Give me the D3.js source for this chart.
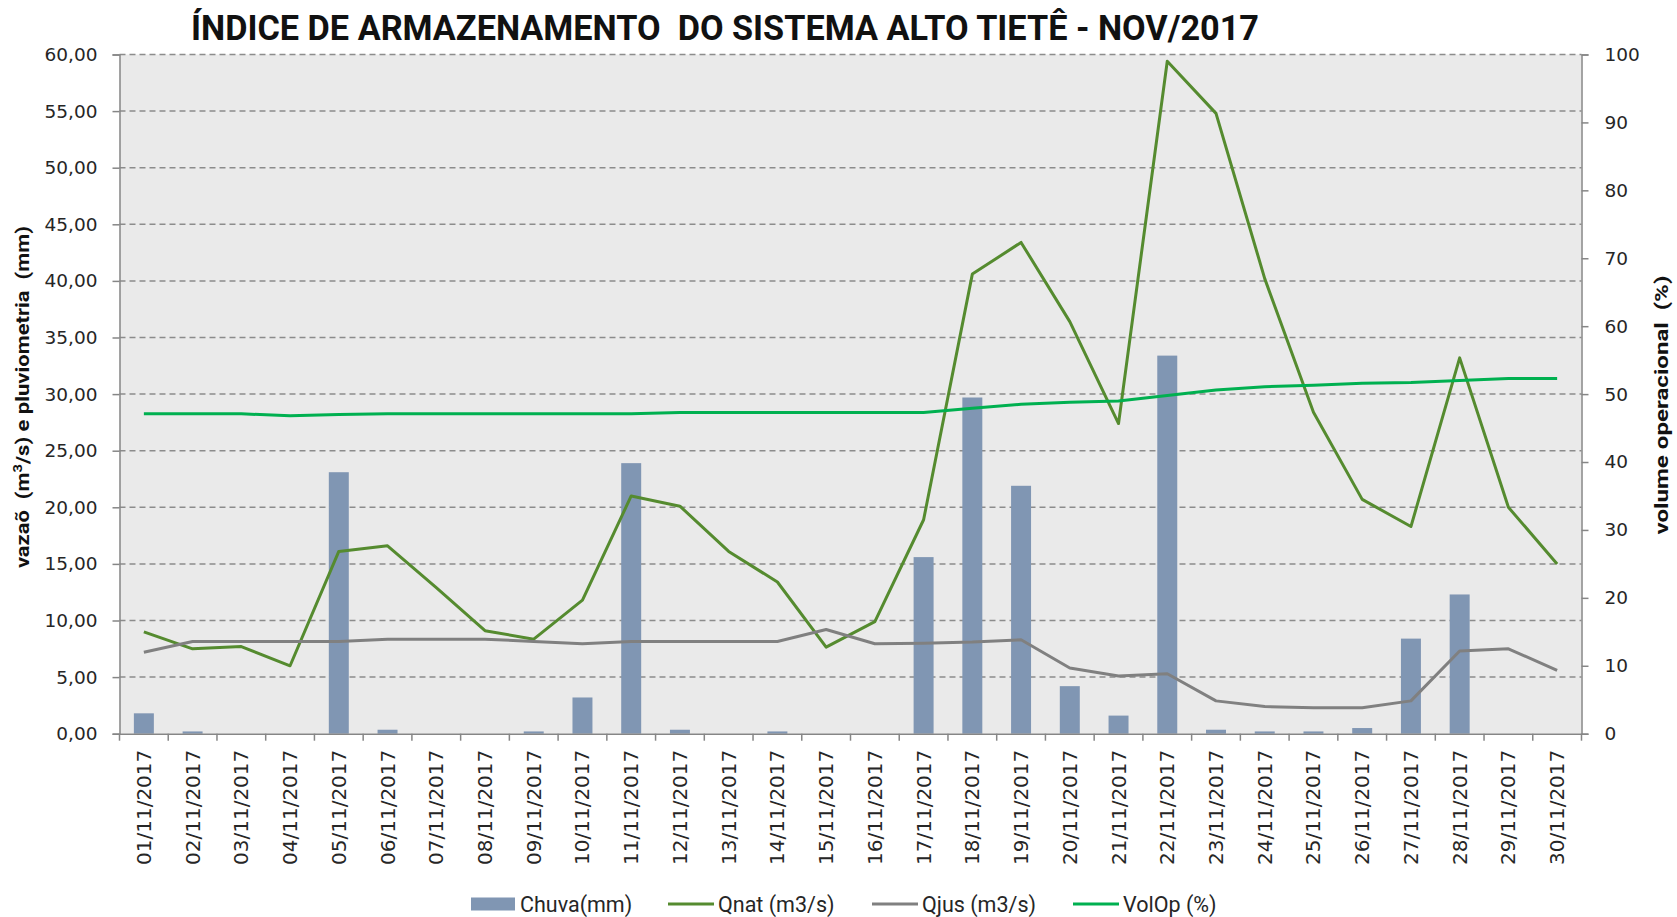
<!DOCTYPE html>
<html>
<head>
<meta charset="utf-8">
<script src="https://cdn.jsdelivr.net/npm/d3@7"></script>
<style>
  body { margin: 0; background: #fff; }
  text { white-space: pre; }
  .tick text { font-family: "DejaVu Sans", Verdana, sans-serif; font-size: 18.5px; fill: #262626; }
  .xaxis .tick text { font-size: 20px; }
  .axis path, .axis line { stroke: #868686; stroke-width: 1.5; }
</style>
</head>
<body>
<div id="chart"></div>
<script>
// dias do mes
let days = ["01/11/2017","02/11/2017","03/11/2017","04/11/2017","05/11/2017","06/11/2017",
  "07/11/2017","08/11/2017","09/11/2017","10/11/2017","11/11/2017","12/11/2017",
  "13/11/2017","14/11/2017","15/11/2017","16/11/2017","17/11/2017","18/11/2017",
  "19/11/2017","20/11/2017","21/11/2017","22/11/2017","23/11/2017","24/11/2017",
  "25/11/2017","26/11/2017","27/11/2017","28/11/2017","29/11/2017","30/11/2017"];

let chuva = [1.8, 0.2, 0, 0, 23.1, 0.35, 0, 0, 0.2, 3.2, 23.9, 0.35, 0, 0.2, 0, 0,
  15.6, 29.7, 21.9, 4.2, 1.6, 33.4, 0.35, 0.2, 0.2, 0.5, 8.4, 12.3, 0, 0];

let qnat = [9.0, 7.5, 7.7, 6.0, 16.1, 16.6, 12.9, 9.1, 8.35, 11.8, 21.0, 20.1, 16.1, 13.4, 7.65, 9.9,
  18.9, 40.6, 43.4, 36.4, 27.4, 59.4, 54.8, 40.2, 28.4, 20.7, 18.3, 33.2, 20.0, 15.0];

let qjus = [7.2, 8.15, 8.15, 8.15, 8.15, 8.35, 8.35, 8.35, 8.15, 7.95, 8.15, 8.15, 8.15, 8.15, 9.2, 7.95,
  8.0, 8.1, 8.3, 5.8, 5.1, 5.3, 2.9, 2.4, 2.3, 2.3, 2.9, 7.3, 7.5, 5.6];

let volop = [47.1, 47.1, 47.1, 46.8, 47.0, 47.1, 47.1, 47.1, 47.1, 47.1, 47.1, 47.3, 47.3, 47.3, 47.3, 47.3,
  47.3, 47.9, 48.5, 48.8, 49.0, 49.8, 50.6, 51.1, 51.3, 51.6, 51.7, 52.0, 52.3, 52.3];

let leftTicks = [0, 5, 10, 15, 20, 25, 30, 35, 40, 45, 50, 55, 60];
let rightTicks = [0, 10, 20, 30, 40, 50, 60, 70, 80, 90, 100];

let legendItems = [
  {name: "Chuva(mm)", type: "bar", color: "#8096B3"},
  {name: "Qnat (m3/s)", type: "line", color: "#558B2F"},
  {name: "Qjus (m3/s)", type: "line", color: "#808080"},
  {name: "VolOp (%)", type: "line", color: "#00B050"}
];

var svgwidth = 1677, svgheight = 917;
var margin = {top: 54.5, right: 95.5, bottom: 183.3, left: 119.5},
    width = svgwidth - margin.left - margin.right,
    height = svgheight - margin.top - margin.bottom;

var br = d3.formatLocale({decimal: ",", thousands: ".", grouping: [3], currency: ["R$", ""]});

let x = d3.scaleBand()
    .domain(days)
    .range([0, width])
    .paddingInner(0.59)
    .paddingOuter(0.295);

let y = d3.scaleLinear().domain([0, 60]).range([height, 0]);
let y2 = d3.scaleLinear().domain([0, 100]).range([height, 0]);

let cx = d => x(d) + x.bandwidth() / 2;

let root = d3.select("#chart").append("svg")
    .attr("width", svgwidth)
    .attr("height", svgheight);

let svg = root.append("g")
    .attr("transform", "translate(" + margin.left + "," + margin.top + ")");

// fundo
svg.append("rect")
    .attr("width", width)
    .attr("height", height)
    .style("fill", "#EAEAEA");

// grade
svg.selectAll(".grid")
    .data(leftTicks.filter(t => t > 0))
  .enter().append("line")
    .attr("class", "grid")
    .attr("x1", 0).attr("x2", width)
    .attr("y1", d => y(d)).attr("y2", d => y(d))
    .style("stroke", "#8C8C8C")
    .style("stroke-width", 1.5)
    .style("stroke-dasharray", "6,4");

// barras chuva
svg.selectAll(".bar")
    .data(days)
  .enter().append("rect")
    .attr("class", "bar")
    .attr("x", d => x(d))
    .attr("width", x.bandwidth())
    .attr("y", (d, i) => y(chuva[i]))
    .attr("height", (d, i) => height - y(chuva[i]))
    .style("fill", "#8096B3");

let line = d3.line().x(d => cx(d.day)).y(d => d.y);

function drawLine(values, scale, color) {
    svg.append("path")
        .datum(days.map((d, i) => ({day: d, y: scale(values[i])})))
        .attr("d", line)
        .style("fill", "none")
        .style("stroke", color)
        .style("stroke-width", 3)
        .style("stroke-linejoin", "round");
}
drawLine(qnat, y, "#558B2F");
drawLine(qjus, y, "#808080");
drawLine(volop, y2, "#00B050");

// eixo esquerdo
svg.append("g")
    .attr("class", "axis")
    .call(d3.axisLeft(y).tickValues(leftTicks).tickFormat(br.format(".2f")).tickSize(7).tickPadding(15));

// eixo direito
svg.append("g")
    .attr("class", "axis")
    .attr("transform", "translate(" + width + ",0)")
    .call(d3.axisRight(y2).tickValues(rightTicks).tickSize(7).tickPadding(16));

// eixo x
let xg = svg.append("g")
    .attr("class", "axis xaxis")
    .attr("transform", "translate(0," + height + ")")
    .call(d3.axisBottom(x).tickSize(0).tickSizeOuter(0));

xg.selectAll("text")
    .style("text-anchor", "end")
    .attr("x", -16)
    .attr("y", 0)
    .attr("dy", "0.35em")
    .attr("transform", "rotate(-90)");

xg.selectAll(".sep")
    .data(d3.range(days.length + 1))
  .enter().append("line")
    .attr("class", "sep")
    .attr("x1", i => i * x.step())
    .attr("x2", i => i * x.step())
    .attr("y1", 0)
    .attr("y2", 7);

// titulo
root.append("text")
    .attr("x", 725)
    .attr("y", 40)
    .attr("text-anchor", "middle")
    .attr("textLength", 1068)
    .attr("lengthAdjust", "spacingAndGlyphs")
    .style("font-family", "Roboto, sans-serif")
    .style("font-weight", "bold")
    .style("font-size", "35px")
    .style("fill", "#111")
    .text("ÍNDICE DE ARMAZENAMENTO  DO SISTEMA ALTO TIETÊ - NOV/2017");

// titulo eixo esquerdo
let lt = root.append("text")
    .attr("transform", "translate(29," + (margin.top + height / 2 + 3) + ") rotate(-90)")
    .attr("text-anchor", "middle")
    .attr("textLength", 342)
    .attr("lengthAdjust", "spacingAndGlyphs")
    .style("font-family", "Roboto, sans-serif")
    .style("font-weight", "bold")
    .style("font-size", "18px")
    .style("fill", "#111");
lt.append("tspan").text("vazaõ  (m");
lt.append("tspan").attr("dy", -7).style("font-size", "12px").text("3");
lt.append("tspan").attr("dy", 7).text("/s) e pluviometria  (mm)");

// titulo eixo direito
root.append("text")
    .attr("transform", "translate(1668," + (margin.top + height / 2 + 11) + ") rotate(-90)")
    .attr("text-anchor", "middle")
    .attr("textLength", 259)
    .attr("lengthAdjust", "spacingAndGlyphs")
    .style("font-family", "Roboto, sans-serif")
    .style("font-weight", "bold")
    .style("font-size", "18px")
    .style("fill", "#111")
    .text("volume operacional  (%)");

// legenda
let legendX = [471, 668, 872, 1073];
let leg = root.selectAll(".legend")
    .data(legendItems)
  .enter().append("g")
    .attr("class", "legend")
    .attr("transform", (d, i) => "translate(" + legendX[i] + ",904)");

leg.filter(d => d.type == "bar").append("rect")
    .attr("x", 0).attr("y", -6.5)
    .attr("width", 44).attr("height", 13)
    .style("fill", d => d.color);

leg.filter(d => d.type == "line").append("line")
    .attr("x1", 0).attr("x2", 46)
    .style("stroke", d => d.color)
    .style("stroke-width", 3);

leg.append("text")
    .attr("x", d => d.type == "bar" ? 49 : 50)
    .attr("dy", "0.35em")
    .style("font-family", "Roboto, sans-serif")
    .style("font-size", "21.5px")
    .style("fill", "#262626")
    .text(d => d.name);
</script>
</body>
</html>
